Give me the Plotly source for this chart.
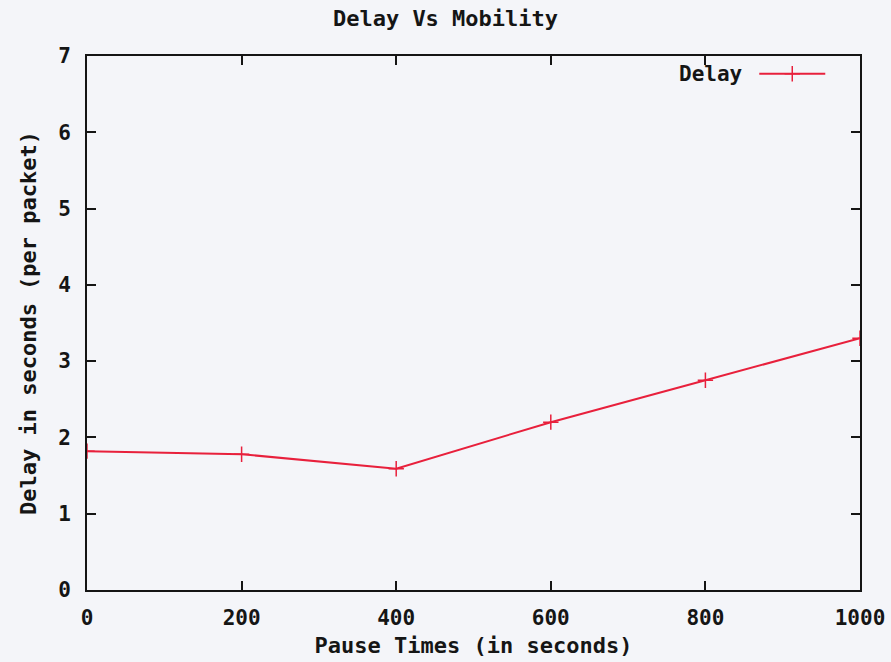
import plotly.graph_objects as go

pause_times = [0, 200, 400, 600, 800, 1000]
delay = [1.82, 1.78, 1.59, 2.20, 2.75, 3.30]
x_ticks = [0, 200, 400, 600, 800, 1000]
y_ticks = [0, 1, 2, 3, 4, 5, 6, 7]

RED = "#e8203c"
INK = "#151515"
FONT = dict(family="DejaVu Sans Mono", size=21, color=INK, weight="bold")
TFONT = dict(family="DejaVu Sans Mono", size=22, color=INK, weight="bold")

fig = go.Figure()
fig.add_trace(go.Scatter(
    x=pause_times, y=delay, mode="lines+markers", name="",
    line=dict(color=RED, width=2),
    marker=dict(symbol="cross-thin-open", size=11, line=dict(color=RED, width=1.5), color=RED),
    showlegend=True,
))

axis_common = dict(showline=True, linecolor=INK, linewidth=1.8, mirror="ticks",
                   ticks="inside", ticklen=9, tickwidth=1.5, tickcolor=INK,
                   showgrid=False, zeroline=False, tickfont=FONT, automargin=False)

fig.update_layout(
    width=891, height=662,
    margin=dict(l=87, r=31, t=56, b=72),
    paper_bgcolor="#f4f5f9", plot_bgcolor="#f4f5f9",
    font=FONT,
    title=dict(text="Delay Vs Mobility", x=0.5, xanchor="center", y=0.972, yanchor="middle",
               font=TFONT, automargin=False),
    xaxis=dict(range=[0, 1000], tickvals=x_ticks, ticktext=[str(v) for v in x_ticks],
               ticklabelstandoff=8,
               title=dict(text="Pause Times (in seconds)", standoff=9, font=TFONT), **axis_common),
    yaxis=dict(range=[0, 7], tickvals=y_ticks, ticktext=[str(v) for v in y_ticks],
               ticklabelstandoff=10,
               title=dict(text="Delay in seconds (per packet)", standoff=16, font=TFONT), **axis_common),
    legend=dict(x=0.968, y=0.966, xanchor="right", yanchor="middle", bgcolor="rgba(0,0,0,0)",
                itemwidth=66, font=FONT),
    annotations=[dict(text="Delay", xref="paper", yref="paper", x=0.851, y=0.966,
                      xanchor="right", yanchor="middle", showarrow=False, font=FONT)],
)

fig.write_html("out.html")
